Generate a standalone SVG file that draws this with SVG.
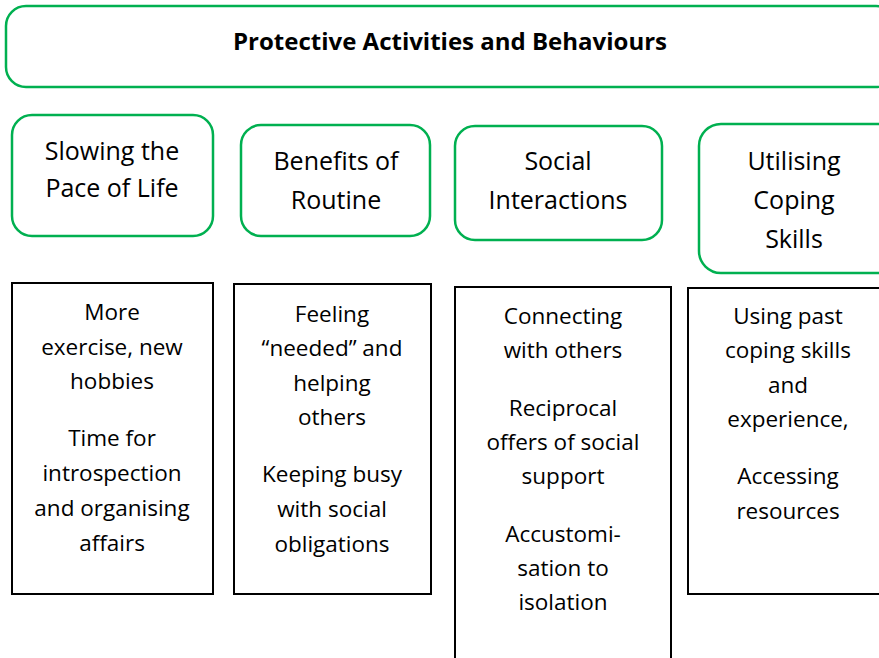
<svg xmlns="http://www.w3.org/2000/svg" width="879" height="658" viewBox="0 0 879 658">
<style>
.g{fill:#fff;stroke:#00B050;stroke-width:2.5}
.k{fill:#fff;stroke:#000;stroke-width:2}
text{font-family:"Open Sans","Liberation Sans",sans-serif;fill:#000;text-anchor:middle}
.t{font-size:24px;font-weight:bold}
.h{font-size:25px}
.d{font-size:22.5px}
</style>
<rect width="879" height="658" fill="#fff"/>
<g id="title">
<rect class="g" x="6" y="6" width="890" height="81" rx="20"/>
<text class="t" x="450" y="50">Protective Activities and Behaviours</text>
</g>
<g id="slowing">
<rect class="g" x="12" y="115" width="201" height="121" rx="20"/>
<text class="h" x="112" y="160">Slowing the</text>
<text class="h" x="112" y="197">Pace of Life</text>
</g>
<g id="routine">
<rect class="g" x="241" y="125" width="189" height="111" rx="20"/>
<text class="h" x="336" y="170">Benefits of</text>
<text class="h" x="336" y="209">Routine</text>
</g>
<g id="social">
<rect class="g" x="455" y="126" width="207" height="114" rx="20"/>
<text class="h" x="558" y="170">Social</text>
<text class="h" x="558" y="209">Interactions</text>
</g>
<g id="coping">
<rect class="g" x="699" y="124" width="200" height="149" rx="22"/>
<text class="h" x="794" y="170">Utilising</text>
<text class="h" x="794" y="209">Coping</text>
<text class="h" x="794" y="248">Skills</text>
</g>
<g id="slowing-detail">
<rect class="k" x="12" y="283" width="201" height="311"/>
<text class="d" x="112" y="320">More</text>
<text class="d" x="112" y="355">exercise, new</text>
<text class="d" x="112" y="389">hobbies</text>
<text class="d" x="112" y="446">Time for</text>
<text class="d" x="112" y="481">introspection</text>
<text class="d" x="112" y="516">and organising</text>
<text class="d" x="112" y="551">affairs</text>
</g>
<g id="routine-detail">
<rect class="k" x="234" y="284" width="197" height="310"/>
<text class="d" x="332" y="322">Feeling</text>
<text class="d" x="332" y="356">“needed” and</text>
<text class="d" x="332" y="391">helping</text>
<text class="d" x="332" y="425">others</text>
<text class="d" x="332" y="482">Keeping busy</text>
<text class="d" x="332" y="517">with social</text>
<text class="d" x="332" y="552">obligations</text>
</g>
<g id="social-detail">
<rect class="k" x="455" y="287" width="216" height="380"/>
<text class="d" x="563" y="324">Connecting</text>
<text class="d" x="563" y="358">with others</text>
<text class="d" x="563" y="416">Reciprocal</text>
<text class="d" x="563" y="450">offers of social</text>
<text class="d" x="563" y="484">support</text>
<text class="d" x="563" y="542">Accustomi-</text>
<text class="d" x="563" y="576">sation to</text>
<text class="d" x="563" y="610">isolation</text>
</g>
<g id="coping-detail">
<rect class="k" x="688" y="288" width="210" height="306"/>
<text class="d" x="788" y="324">Using past</text>
<text class="d" x="788" y="358">coping skills</text>
<text class="d" x="788" y="393">and</text>
<text class="d" x="788" y="427">experience,</text>
<text class="d" x="788" y="484">Accessing</text>
<text class="d" x="788" y="519">resources</text>
</g>
<g id="connectors"></g>
</svg>
